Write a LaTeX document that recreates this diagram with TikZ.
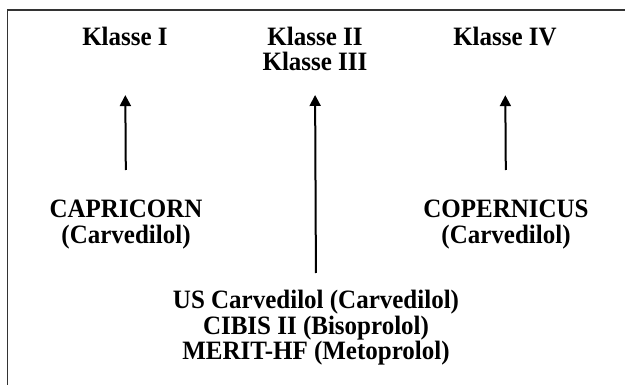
\documentclass[tikz,border=0pt]{standalone}
\usepackage{fontspec}
\setmainfont{Liberation Serif}
\usetikzlibrary{arrows.meta}
\begin{document}
\begin{tikzpicture}[x=1pt,y=-1pt,
  lbl/.style={font=\bfseries\fontsize{25}{#1}\selectfont, align=center,
    inner sep=0pt, anchor=north, yscale=1.06, transform shape},
  lbl/.default=24,
  arr/.style={line width=2pt, -{Triangle[length=11pt,width=11pt]}}]
\useasboundingbox (0,0) rectangle (625,385);
% open frame: top edge and left edge only
\draw[line width=1.5pt, black!80] (625,10) -- (7.5,10) -- (7.5,385);

% classes
\node[lbl] (k1) at (125,27) {Klasse I};
\node[lbl=23.5] (k23) at (315,27) {Klasse II\\Klasse III};
\node[lbl] (k4) at (505,27) {Klasse IV};

% studies
\node[lbl=24.5] (cap) at (126,200) {CAPRICORN\\(Carvedilol)};
\node[lbl=24.5] (cop) at (506,200) {COPERNICUS\\(Carvedilol)};
\node[lbl=24] (mid) at (316,290) {US Carvedilol (Carvedilol)\\CIBIS II (Bisoprolol)\\MERIT-HF (Metoprolol)};

% arrows
\draw[arr, shorten <=30pt, shorten >=49pt] (cap.north) -- (k1.south);
\draw[arr, shorten <=30pt, shorten >=49pt] (cop.north) -- (k4.south);
\draw[arr, shorten <=17pt, shorten >=24pt] (mid.north) -- (k23.south);
\end{tikzpicture}
\end{document}
